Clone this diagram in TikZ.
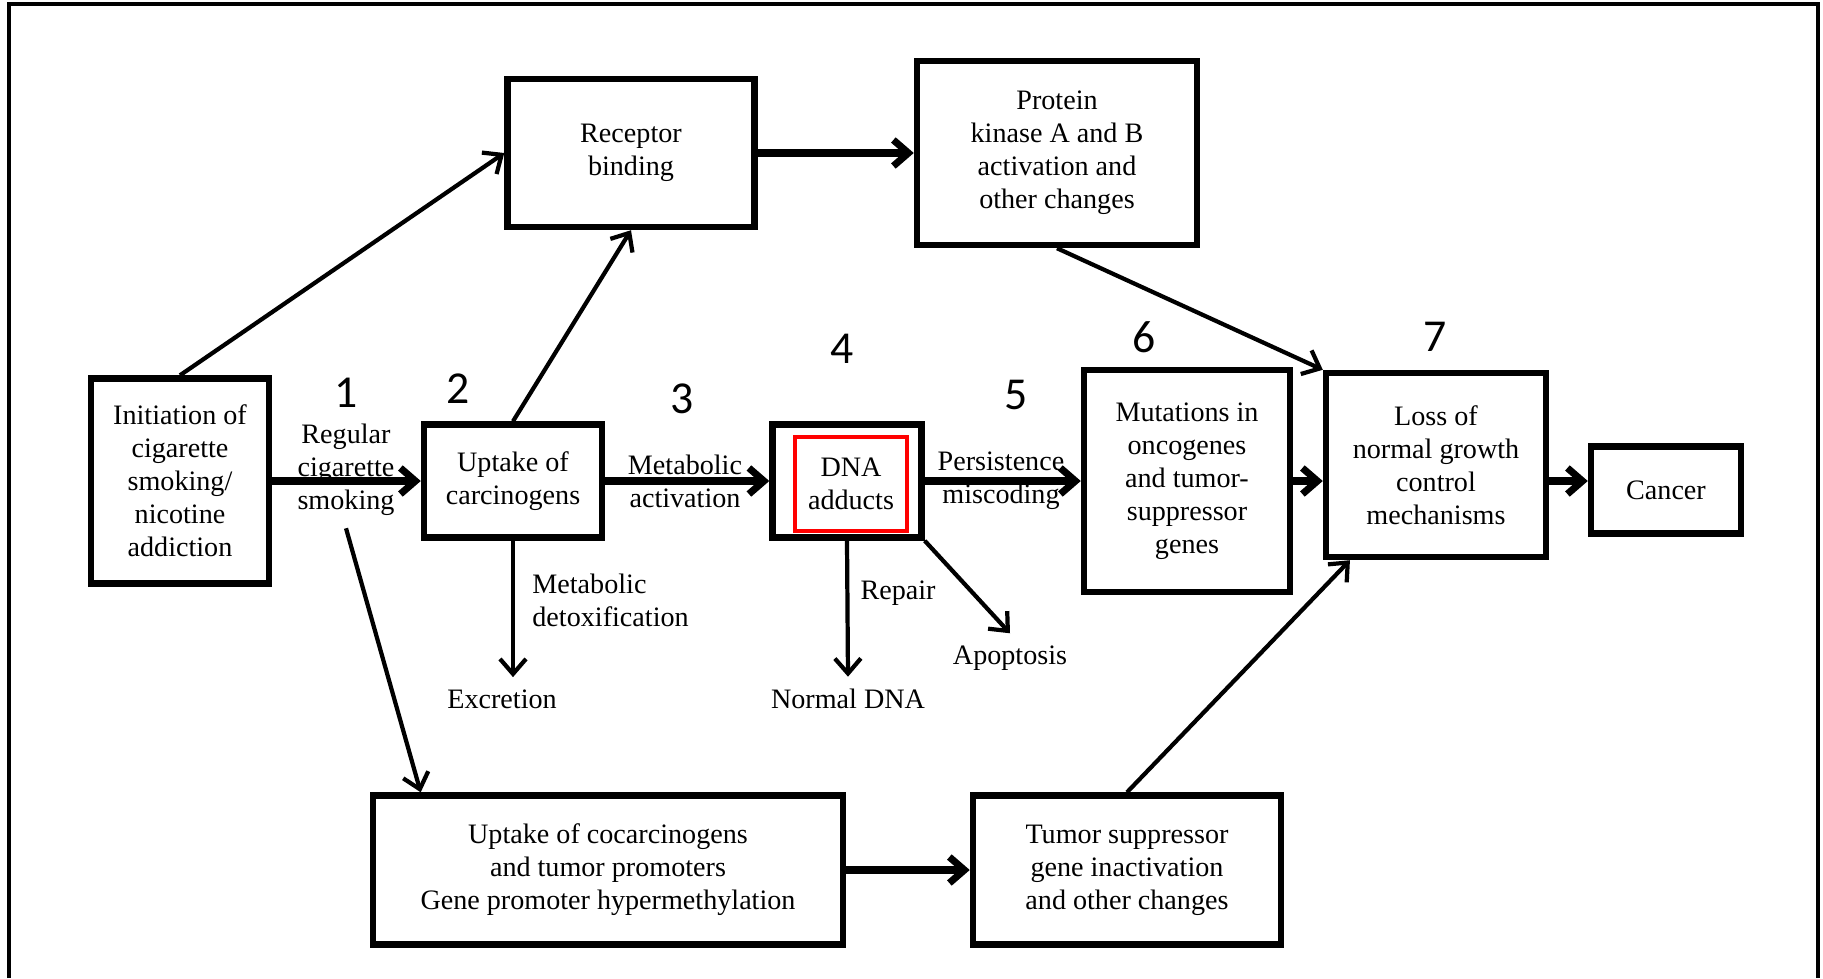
\documentclass[tikz,border=0pt]{standalone}
\usepackage{fontspec}
\setmainfont{Liberation Serif}
\newfontfamily\numfont{Carlito}
\usetikzlibrary{arrows.meta,calc}
\tikzset{
  box/.style={draw, line width=1.8pt, align=center, inner sep=2pt},
  flow/.style={
    -{Straight Barb[length=1.5mm,width=2.6mm]},
    line width=2pt},
  thinflow/.style={
    -{Straight Barb[length=1.5mm,width=2.6mm]},
    line width=1.2pt},
  lbl/.style={align=center},
  num/.style={font=\numfont\fontsize{13}{15}\selectfont}
  }

\begin{document}
\begin{tikzpicture}[x=0.01cm, y=-0.01cm, font=\fontsize{8}{9.4}\selectfont]
    \useasboundingbox (0,0) rectangle (1823,978);
    \draw [line width=0.9pt] (9,978) -- (9,4) -- (1818,4) -- (1818,978);
    % boxes
    \node[box, minimum width=1.78cm, minimum height=2.05cm] (init) at (180,481)
      {Initiation of\\cigarette\\smoking/\\nicotine\\addiction};
    \node[box, minimum width=2.47cm, minimum height=1.48cm] (recep) at (631,153)
      {Receptor\\binding};
    \node[box, minimum width=2.80cm, minimum height=1.84cm] (prot) at (1057,153)
      {Protein\\kinase A and B\\activation and\\other changes};
    \node[box, minimum width=1.78cm, minimum height=1.13cm] (upt) at (513,481)
      {Uptake of\\carcinogens};
    \node[box, minimum width=1.49cm, minimum height=1.13cm] (dna) at (847,481) {};
    \node[draw=red, line width=1.2pt, align=center, minimum width=1.12cm,
      minimum height=0.94cm] (adduct) at (851,484) {DNA\\adducts};
    \node[box, minimum width=2.06cm, minimum height=2.22cm] (mut) at (1187,481)
      {Mutations in\\oncogenes\\and tumor-\\suppressor\\genes};
    \node[box, minimum width=2.20cm, minimum height=1.84cm] (loss) at (1436,465)
      {Loss of\\normal growth\\control\\mechanisms};
    \node[box, minimum width=1.50cm, minimum height=0.87cm] (cancer) at (1666,490)
      {Cancer};
    \node[box, minimum width=4.70cm, minimum height=1.49cm] (coc) at (608,870)
      {Uptake of cocarcinogens\\and tumor promoters\\Gene promoter hypermethylation};
    \node[box, minimum width=3.08cm, minimum height=1.49cm] (tum) at (1127,870)
      {Tumor suppressor\\gene inactivation\\and other changes};
    % labels
    \node[lbl] (reg) at (346,470) {Regular\\cigarette\\smoking};
    \node[lbl] (metact) at (685,481) {Metabolic\\activation};
    \node[lbl] (persist) at (1001,481) {Persistence\\miscoding};
    \node[lbl, anchor=west, align=left] (detox) at (520,600)
      {Metabolic\\detoxification};
    \node[lbl] (excr) at (502,699) {Excretion};
    \node[lbl] (repair) at (898,593) {Repair};
    \node[lbl] (normdna) at (848,699) {Normal DNA};
    \node[lbl] (apop) at (1010,658) {Apoptosis};
    % step numbers
    \node[num] (n1) at (346,393) {1};
    \node[num] (n2) at (458,389) {2};
    \node[num] (n3) at (682,399) {3};
    \node[num] (n4) at (842,349) {4};
    \node[num] (n5) at (1016,395) {5};
    \node[num] (n6) at (1144,337) {6};
    \node[num] (n7) at (1435,337) {7};
    % arrows
    \draw
      (init.east) edge[flow] (upt.west)
      (upt.east) edge[flow] (dna.west)
      (dna.east) edge[flow] (mut.west)
      (mut.east) edge[flow] (mut.east -| loss.west)
      (loss.east |- mut.east) edge[flow] (cancer.west |- mut.east)
      (recep.east) edge[flow] (prot.west)
      (coc.east) edge[flow] (tum.west);
    \draw
      (init.north) edge[thinflow] (recep.west)
      (upt.north) edge[thinflow] (recep.south)
      (prot.south) edge[thinflow] (loss.north west)
      (tum.north) edge[thinflow] ($(loss.south west)!0.12!(loss.south east)$)
      (reg.south) edge[thinflow] ($(coc.north west)+(51,0)$)
      (upt.south) edge[thinflow] (upt.south |- excr.north)
      (dna.south) edge[thinflow] (normdna.north)
      (dna.south east) edge[thinflow] (apop.north);
  \end{tikzpicture}
\end{document}
